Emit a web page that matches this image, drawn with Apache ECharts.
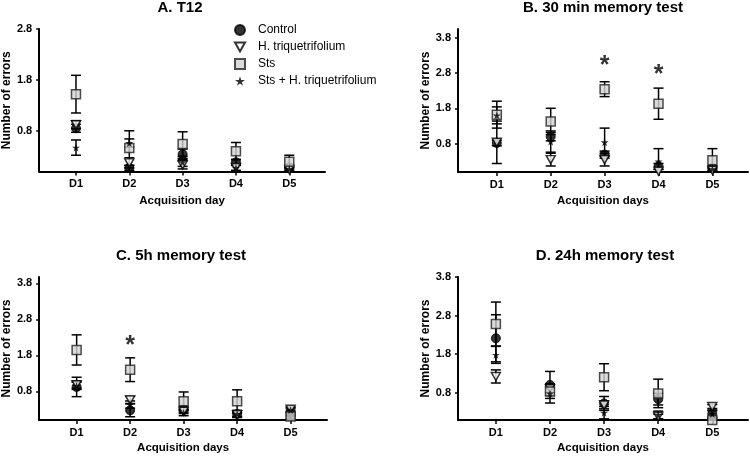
<!DOCTYPE html>
<html><head><meta charset="utf-8">
<script src="https://cdn.jsdelivr.net/npm/echarts@6/dist/echarts.min.js"></script>
<style>html,body{margin:0;padding:0;background:#fff}#c{width:750px;height:456px}</style>
</head><body><div id="c"></div>
<script>
const days = ['D1','D2','D3','D4','D5'];
const groups = ['Control','H. triquetrifolium','Sts','Sts + H. triquetrifolium'];
// Panel A. T12
const A_control = [0.85, 0.07, 0.34, 0.18, 0.08];
const A_control_err = [0.08, 0.05, 0.10, 0.06, 0.05];
const A_htri = [0.92, 0.17, 0.13, 0.08, 0.04];
const A_htri_err = [0.08, 0.10, 0.08, 0.06, 0.04];
const A_sts = [1.52, 0.46, 0.54, 0.40, 0.19];
const A_sts_err = [0.37, 0.34, 0.24, 0.17, 0.13];
const A_stsh = [0.47, 0.56, 0.18, 0.07, 0.05];
const A_stsh_err = [0.15, 0.08, 0.08, 0.05, 0.04];
// Panel B. 30 min
const B_control = [0.82, 1.00, 0.49, 0.16, 0.11];
const B_control_err = [0.08, 0.12, 0.10, 0.08, 0.06];
const B_htri = [0.84, 0.35, 0.35, 0.02, 0.05];
const B_htri_err = [0.60, 0.18, 0.18, 0.05, 0.05];
const B_sts = [1.62, 1.43, 2.34, 1.93, 0.33];
const B_sts_err = [0.38, 0.37, 0.21, 0.44, 0.33];
const B_stsh = [1.60, 0.86, 0.84, 0.30, 0.08];
const B_stsh_err = [0.24, 0.30, 0.40, 0.36, 0.05];
const B_sig = [[3, 3.12], [4, 2.89]];
// Panel C. 5h
const C_control = [0.92, 0.27, 0.30, 0.17, 0.21];
const C_control_err = [0.27, 0.18, 0.08, 0.08, 0.10];
const C_htri = [0.98, 0.56, 0.24, 0.15, 0.30];
const C_htri_err = [0.10, 0.10, 0.06, 0.05, 0.05];
const C_sts = [1.95, 1.40, 0.52, 0.52, 0.10];
const C_sts_err = [0.42, 0.33, 0.26, 0.32, 0.05];
const C_stsh = [0.95, 0.43, 0.20, 0.17, 0.28];
const C_stsh_err = [0.10, 0.10, 0.08, 0.10, 0.08];
const C_sig = [[2, 2.19]];
// Panel D. 24h
const D_control = [2.21, 1.00, 0.52, 0.63, 0.25];
const D_control_err = [0.61, 0.35, 0.18, 0.15, 0.10];
const D_htri = [1.22, 0.90, 0.48, 0.18, 0.44];
const D_htri_err = [0.17, 0.10, 0.10, 0.06, 0.05];
const D_sts = [2.58, 0.83, 1.20, 0.78, 0.09];
const D_sts_err = [0.57, 0.10, 0.35, 0.37, 0.03];
const D_stsh = [1.78, 0.78, 0.28, 0.22, 0.25];
const D_stsh_err = [0.22, 0.25, 0.16, 0.10, 0.08];
const D_sig = [];

const yTicksA = [0.8, 1.8, 2.8];
const yTicks = [0.8, 1.8, 2.8, 3.8];
const xTicks = [1, 2, 3, 4, 5];

const panels = [
  {title:'A. T12', data:[[A_control,A_control_err],[A_htri,A_htri_err],[A_sts,A_sts_err],[A_stsh,A_stsh_err]], sig:[], yt:yTicksA,
   grid:{left:37, top:29, width:288, height:142.5}, xmin:0.31, xmax:5.67, ymin:0, ymax:2.8, xname:'Acquisition day', xgap:23, tx:180, ty:-5},
  {title:'B. 30 min memory test', data:[[B_control,B_control_err],[B_htri,B_htri_err],[B_sts,B_sts_err],[B_stsh,B_stsh_err]], sig:B_sig, yt:yTicks,
   grid:{left:458, top:29, width:290, height:143}, xmin:0.28, xmax:5.66, ymin:0, ymax:4.04, xname:'Acquisition days', xgap:23, tx:603, ty:-5},
  {title:'C. 5h memory test', data:[[C_control,C_control_err],[C_htri,C_htri_err],[C_sts,C_sts_err],[C_stsh,C_stsh_err]], sig:C_sig, yt:yTicks,
   grid:{left:36, top:277, width:291, height:143}, xmin:0.30, xmax:5.68, ymin:0, ymax:3.98, xname:'Acquisition days', xgap:22, tx:181, ty:243},
  {title:'D. 24h memory test', data:[[D_control,D_control_err],[D_htri,D_htri_err],[D_sts,D_sts_err],[D_stsh,D_stsh_err]], sig:D_sig, yt:yTicks,
   grid:{left:458, top:277, width:290, height:143}, xmin:0.30, xmax:5.66, ymin:0.09, ymax:3.8, xname:'Acquisition days', xgap:22, tx:605, ty:243}
];

const FONT = 'Liberation Sans, Arial, sans-serif';
const symbols = [
  {symbol:'circle', size:9, style:{color:'#000', borderColor:'#000', borderWidth:1}},
  {symbol:'path://M0,0 L10,0 L5,9 Z', size:[9,8], style:{color:'#fff', borderColor:'#000', borderWidth:1.5}},
  {symbol:'rect', size:9, style:{color:'#d3d3d3', borderColor:'#222', borderWidth:1.5}},
  {symbol:'path://M50,0 L61,35 L98,35 L68,57 L79,91 L50,70 L21,91 L32,57 L2,35 L39,35 Z', size:8, style:{color:'#000', borderColor:'#000', borderWidth:0}}
];

const grids=[], xAxes=[], yAxes=[], series=[], titles=[];
panels.forEach((p, i) => {
  grids.push(Object.assign({}, p.grid));
  titles.push({text:p.title, left:p.tx - 5, top:p.ty, textAlign:'center',
    textStyle:{fontFamily:FONT, fontSize:15, fontWeight:'bold', color:'#000'}});
  xAxes.push({type:'value', gridIndex:i, min:p.xmin, max:p.xmax, splitLine:{show:false},
    axisLine:{show:true, onZero:false, lineStyle:{color:'#000', width:2}},
    axisTick:{show:true, customValues:xTicks, length:4, lineStyle:{color:'#000', width:1.5}},
    axisLabel:{customValues:xTicks, formatter:v => days[Math.round(v)-1], fontFamily:FONT, fontSize:11, fontWeight:'bold', color:'#000', margin:7},
    name:p.xname, nameLocation:'middle', nameGap:p.xgap,
    nameTextStyle:{fontFamily:FONT, fontSize:11.5, fontWeight:'bold', color:'#000'}});
  yAxes.push({type:'value', gridIndex:i, min:p.ymin, max:p.ymax, splitLine:{show:false},
    axisLine:{show:true, onZero:false, lineStyle:{color:'#000', width:2}},
    axisTick:{show:true, customValues:p.yt, length:3, lineStyle:{color:'#000', width:1.5}},
    axisLabel:{customValues:p.yt, formatter:v => v.toFixed(1), fontFamily:FONT, fontSize:11, fontWeight:'bold', color:'#000', margin:7},
    name:'Number of errors', nameLocation:'middle', nameGap:24,
    nameTextStyle:{fontFamily:FONT, fontSize:12, fontWeight:'bold', color:'#000'}});
  p.data.forEach((g, gi) => {
    const means = g[0], errs = g[1];
    series.push({type:'custom', xAxisIndex:i, yAxisIndex:i, z:2, silent:true,
      data: means.map((m, k) => [k+1, m, errs[k]]),
      renderItem: (params, api) => {
        const x = api.value(0), m = api.value(1), e = api.value(2);
        const top = api.coord([x, m+e]), bot = api.coord([x, Math.max(m-e, p.ymin)]);
        const hw = 5;
        const st = {stroke:'#000', lineWidth:1.5};
        const kids = [
          {type:'line', shape:{x1:top[0], y1:top[1], x2:bot[0], y2:bot[1]}, style:st},
          {type:'line', shape:{x1:top[0]-hw, y1:top[1], x2:top[0]+hw, y2:top[1]}, style:st}
        ];
        if (m-e > p.ymin) kids.push({type:'line', shape:{x1:bot[0]-hw, y1:bot[1], x2:bot[0]+hw, y2:bot[1]}, style:st});
        return {type:'group', children:kids};
      }});
    const s = symbols[gi];
    series.push({type:'scatter', name:groups[gi], xAxisIndex:i, yAxisIndex:i, z:3+gi,
      symbol:s.symbol, symbolSize:s.size, itemStyle:s.style,
      data: means.map((m, k) => [k+1, m])});
  });
  if (p.sig.length) {
    series.push({type:'scatter', xAxisIndex:i, yAxisIndex:i, symbol:'circle', symbolSize:2, silent:true, z:10,
      itemStyle:{color:'rgba(0,0,0,0)'},
      data:p.sig,
      label:{show:true, position:'inside', formatter:'*', fontFamily:FONT, fontSize:25, fontWeight:'bold', color:'#000', offset:[0,5]}});
  }
});

const chart = echarts.init(document.getElementById('c'), null, {renderer:'canvas'});
chart.setOption({
  animation:false,
  backgroundColor:'#fff',
  title:titles,
  legend:{data:groups, orient:'vertical', left:229, top:19, itemGap:5, itemWidth:10, itemHeight:10,
    textStyle:{fontFamily:FONT, fontSize:12, color:'#000', padding:[0,0,0,8]}},
  grid:grids, xAxis:xAxes, yAxis:yAxes, series:series
});
</script></body></html>
